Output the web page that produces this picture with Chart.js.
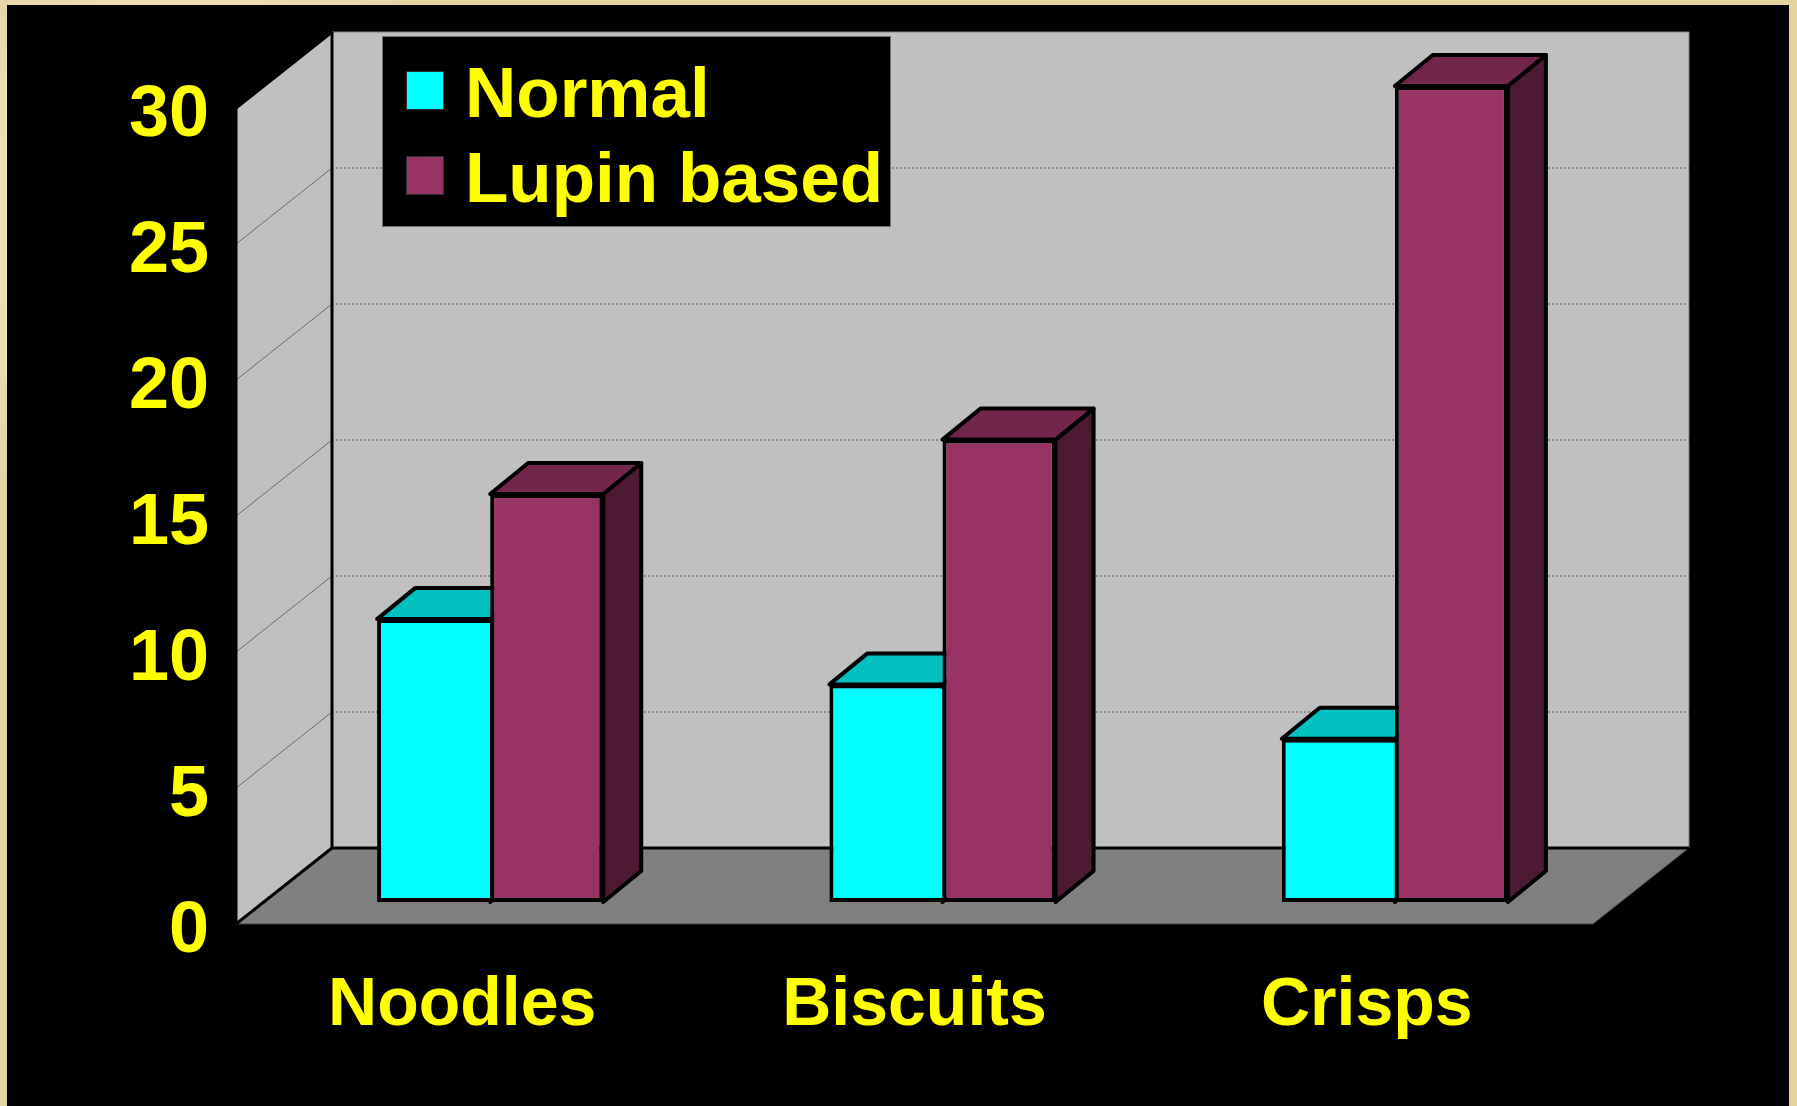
<!DOCTYPE html>
<html>
<head>
<meta charset="utf-8">
<title>Normal vs Lupin based</title>
<script src="https://cdn.jsdelivr.net/npm/chart.js@4.4.1/dist/chart.umd.min.js"></script>
<style>
    html, body { margin: 0; padding: 0; }
    body {
        width: 1797px; height: 1106px; overflow: hidden; position: relative;
        background-color: #e6d3a2;
        background-image:
            radial-gradient(circle at 10% 20%, rgba(255, 245, 215, 0.7) 0, transparent 18%),
            radial-gradient(circle at 80% 60%, rgba(200, 170, 110, 0.5) 0, transparent 22%),
            radial-gradient(circle at 40% 90%, rgba(255, 240, 200, 0.6) 0, transparent 20%);
    }
    #wrap { position: absolute; left: 7px; top: 5px; width: 1782px; height: 1101px; background: #000; }
</style>
</head>
<body>
<div id="wrap"><canvas id="chart"></canvas></div>
<script>
const categories = ['Noodles', 'Biscuits', 'Crisps'];
const normalValues = [10.4, 8, 6];
const lupinValues = [15, 17, 30];

const FONT = "'Liberation Sans', Arial, sans-serif";

// oblique 3D offsets (px): whole floor depth, bar front plane, bar depth
const depth = { x: 96, y: -76 };
const barShift = { x: 28, y: -22 };
const barDepth = { x: 38, y: -31 };

function poly(ctx, pts, fill, stroke, lw) {
    ctx.beginPath();
    ctx.moveTo(pts[0][0], pts[0][1]);
    for (let i = 1; i < pts.length; i++) ctx.lineTo(pts[i][0], pts[i][1]);
    ctx.closePath();
    if (fill) { ctx.fillStyle = fill; ctx.fill(); }
    if (stroke) { ctx.strokeStyle = stroke; ctx.lineWidth = lw || 1; ctx.stroke(); }
}

function line(ctx, x1, y1, x2, y2, color, lw, dash) {
    ctx.beginPath();
    ctx.setLineDash(dash || []);
    ctx.moveTo(x1, y1);
    ctx.lineTo(x2, y2);
    ctx.strokeStyle = color;
    ctx.lineWidth = lw;
    ctx.stroke();
    ctx.setLineDash([]);
}

const box3d = {
    id: 'box3d',
    beforeDatasetsDraw(chart) {
        const { ctx, chartArea: a, scales: { y } } = chart;
        const L = a.left, R = a.right, T = a.top, B = a.bottom;
        const dx = depth.x, dy = depth.y;

        ctx.save();
        ctx.lineJoin = 'round';
        // walls + floor
        poly(ctx, [[L + dx, T + dy], [R + dx, T + dy], [R + dx, B + dy], [L + dx, B + dy]], '#c0c0c0', '#808080', 1);
        poly(ctx, [[L, B], [L, T], [L + dx, T + dy], [L + dx, B + dy]], '#c0c0c0');
        poly(ctx, [[L, B], [R, B], [R + dx, B + dy], [L + dx, B + dy]], '#808080', '#404040', 1);

        // gridlines
        y.ticks.forEach(t => {
            if (t.value <= 0) return;
            const py = y.getPixelForValue(t.value);
            line(ctx, L, py, L + dx, py + dy, '#6a6a6a', 1);
            if (t.value < y.max) line(ctx, L + dx, py + dy, R + dx, py + dy, '#5a5a5a', 1, [2, 2]);
        });

        // edges
        line(ctx, L, B, L, T, '#000', 3);
        line(ctx, L, T, L + dx, T + dy, '#000', 3);
        line(ctx, L + dx, T + dy, L + dx, B + dy, '#000', 3);
        line(ctx, L, B, L + dx, B + dy, '#000', 3);
        line(ctx, L + dx, B + dy, R + dx, B + dy, '#000', 3);

        // bar tops and sides
        chart.data.datasets.forEach((ds, i) => {
            chart.getDatasetMeta(i).data.forEach(bar => {
                const p = bar.getProps(['x', 'y', 'base', 'width'], true);
                const l = p.x - p.width / 2 + barShift.x;
                const r = p.x + p.width / 2 + barShift.x;
                const t = p.y + barShift.y;
                const b = p.base + barShift.y;
                poly(ctx, [[r, t], [r + barDepth.x, t + barDepth.y], [r + barDepth.x, b + barDepth.y], [r, b]], ds.sideColor, '#000', 4);
                poly(ctx, [[l, t], [l + barDepth.x, t + barDepth.y], [r + barDepth.x, t + barDepth.y], [r, t]], ds.topColor, '#000', 4);
            });
        });
        ctx.restore();

        // front faces are drawn by Chart.js in the bar plane
        ctx.save();
        ctx.translate(barShift.x, barShift.y);
    },
    afterDatasetsDraw(chart) {
        chart.ctx.restore();
    },
    afterDraw(chart) {
        const { ctx, chartArea: a } = chart;
        const lx = a.left + 146, ly = a.top - 72;
        ctx.save();
        ctx.fillStyle = '#000';
        ctx.fillRect(lx, ly, 508, 190);
        ctx.strokeStyle = '#707070';
        ctx.lineWidth = 1;
        ctx.strokeRect(lx + 0.5, ly + 0.5, 508, 190);
        ctx.font = 'bold 71px ' + FONT;
        ctx.textBaseline = 'alphabetic';
        chart.data.datasets.forEach((ds, i) => {
            const rowY = ly + i * 85;
            ctx.fillStyle = ds.backgroundColor;
            ctx.fillRect(lx + 24, rowY + 35, 37, 38);
            ctx.strokeStyle = '#303030';
            ctx.strokeRect(lx + 24.5, rowY + 35.5, 37, 38);
            ctx.fillStyle = '#ffff00';
            ctx.fillText(ds.label, lx + 83, rowY + 81);
        });
        ctx.restore();
    }
};

const ctx = document.getElementById('chart').getContext('2d');

new Chart(ctx, {
    type: 'bar',
    data: {
        labels: categories,
        datasets: [{
            label: 'Normal',
            data: normalValues,
            backgroundColor: '#00ffff',
            topColor: '#00c0c0',
            sideColor: '#008080',
            borderColor: '#000',
            borderWidth: { left: 4, top: 4, bottom: 4, right: 0 },
            borderSkipped: false,
            clip: false
        }, {
            label: 'Lupin based',
            data: lupinValues,
            backgroundColor: '#993366',
            topColor: '#73264c',
            sideColor: '#4c1a33',
            borderColor: '#000',
            borderWidth: 4,
            borderSkipped: false,
            clip: false
        }]
    },
    options: {
        responsive: true,
        maintainAspectRatio: false,
        animation: false,
        devicePixelRatio: 1,
        layout: { padding: { left: 0, top: 103, right: 196, bottom: 0 } },
        categoryPercentage: 0.5,
        barPercentage: 1.0,
        plugins: {
            legend: { display: false },
            tooltip: { enabled: false }
        },
        scales: {
            x: {
                grid: { display: false, drawTicks: false },
                border: { display: false },
                ticks: {
                    color: '#ffff00',
                    font: { family: FONT, size: 68, weight: 'bold' },
                    padding: 41,
                    maxRotation: 0,
                    autoSkip: false
                },
                afterFit(scale) { scale.height = 182; }
            },
            y: {
                min: 0,
                max: 30,
                grid: { display: false, drawTicks: false },
                border: { display: false },
                ticks: {
                    stepSize: 5,
                    color: '#ffff00',
                    font: { family: FONT, size: 72, weight: 'bold' },
                    padding: 27,
                    labelOffset: 8
                },
                afterFit(scale) { scale.width = 229; }
            }
        }
    },
    plugins: [box3d]
});
</script>
</body>
</html>
